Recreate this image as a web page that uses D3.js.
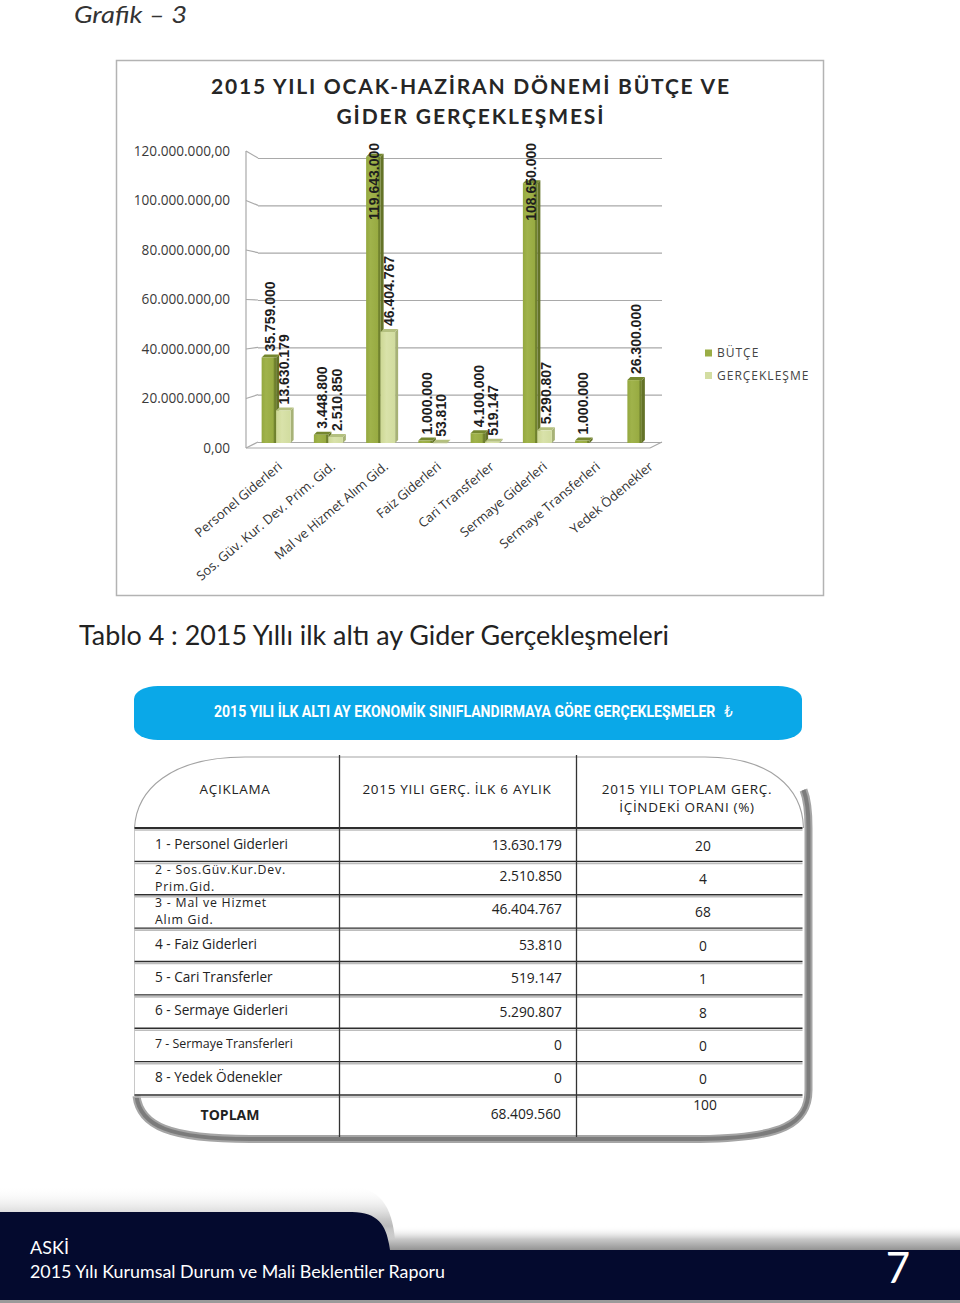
<!DOCTYPE html>
<html><head><meta charset="utf-8">
<script src="https://cdn.jsdelivr.net/npm/d3@7/dist/d3.min.js"></script>
<style>body{margin:0;background:#fff}svg{display:block}</style>
</head><body>
<svg id="c" width="960" height="1303"></svg>
<script>
// ---------------- DATA ----------------
const pageTitle = "Grafik – 3";
const chartTitle = ["2015 YILI OCAK-HAZİRAN DÖNEMİ BÜTÇE VE", "GİDER GERÇEKLEŞMESİ"];
const categories = ["Personel Giderleri","Sos. Güv. Kur. Dev. Prim. Gid.","Mal ve Hizmet Alım Gid.","Faiz Giderleri","Cari Transferler","Sermaye Giderleri","Sermaye Transferleri","Yedek Ödenekler"];
const butce = [35759000, 3448800, 119643000, 1000000, 4100000, 108650000, 1000000, 26300000];
const gerceklesme = [13630179, 2510850, 46404767, 53810, 519147, 5290807, 0, 0];
const seriesNames = ["BÜTÇE", "GERÇEKLEŞME"];
const yTicks = [0, 20000000, 40000000, 60000000, 80000000, 100000000, 120000000];

const tableCaption = "Tablo 4 : 2015 Yıllı ilk altı ay Gider Gerçekleşmeleri";
const bannerTitle = "2015 YILI İLK ALTI AY EKONOMİK SINIFLANDIRMAYA GÖRE GERÇEKLEŞMELER";
const bannerCurrency = "₺";
const tableHeaders = [["AÇIKLAMA"], ["2015 YILI GERÇ. İLK 6 AYLIK"], ["2015 YILI TOPLAM GERÇ.", "İÇİNDEKİ ORANI (%)"]];
const rowLabels = [["1 - Personel Giderleri"],["2 - Sos.Güv.Kur.Dev.","Prim.Gid."],["3 - Mal ve Hizmet","Alım Gid."],["4 - Faiz Giderleri"],["5 - Cari Transferler"],["6 - Sermaye Giderleri"],["7 - Sermaye Transferleri"],["8 - Yedek Ödenekler"]];
const rowValues = [13630179, 2510850, 46404767, 53810, 519147, 5290807, 0, 0];
const rowShares = [20, 4, 68, 0, 1, 8, 0, 0];
const totalLabel = "TOPLAM";
const totalValue = 68409560;
const totalShare = 100;

const footerLines = ["ASKİ", "2015 Yılı Kurumsal Durum ve Mali Beklentiler Raporu"];
const pageNumber = "7";

// ---------------- SETUP ----------------
const svg = d3.select("#c");
const loc = d3.formatLocale({decimal: ",", thousands: ".", grouping: [3], currency: ["", ""]});
const fmtTick = loc.format(",.2f");
const fmtInt = loc.format(",d");

const defs = svg.append("defs");
function lin(id, stops, vertical) {
  const g = defs.append("linearGradient").attr("id", id)
    .attr("x1", 0).attr("y1", 0).attr("x2", vertical ? 0 : 1).attr("y2", vertical ? 1 : 0);
  stops.forEach(s => g.append("stop").attr("offset", s[0]).attr("stop-color", s[1]).attr("stop-opacity", s[2] === undefined ? 1 : s[2]));
}
lin("gB", [[0, "#94a83f"], [0.3, "#a0b34b"], [0.8, "#98ab42"], [0.86, "#748630"], [1, "#6c7d2b"]]);
lin("gG", [[0, "#cdd894"], [0.4, "#d9e2aa"], [1, "#d1dc9f"]]);
lin("shTop", [[0, "#ffffff", 0], [0.5, "#c9c9c9", 1], [1, "#8a8a8a", 1]], true);

svg.append("rect").attr("width", 960).attr("height", 1303).attr("fill", "#fff");

// Page title
svg.append("text").attr("x", 74).attr("y", 23).text(pageTitle)
  .attr("font-family", "Lato, 'Open Sans', sans-serif").attr("font-style", "italic")
  .attr("font-size", 23).attr("fill", "#333").attr("textLength", 113).attr("lengthAdjust", "spacingAndGlyphs");

// Chart frame
svg.append("rect").attr("x", 116.5).attr("y", 60.5).attr("width", 707).attr("height", 535)
  .attr("fill", "#fff").attr("stroke", "#b3b3b3").attr("stroke-width", 1.5);

// Chart title
svg.selectAll("text.ct").data(chartTitle).join("text").attr("class", "ct")
  .attr("x", 470).attr("y", (d, i) => 93.5 + i * 30).attr("text-anchor", "middle")
  .attr("font-family", "Lato, 'Open Sans', sans-serif").attr("font-weight", 700)
  .attr("font-size", 21).attr("fill", "#262626")
  .attr("textLength", (d, i) => i === 0 ? 518 : 267).attr("lengthAdjust", "spacing")
  .text(d => d);

// Scales
const x = d3.scaleBand().domain(categories).range([250, 668]);
const xLab = d3.scalePoint().domain(categories).range([283, 654]);
const yBar = d3.scaleLinear().domain([0, 120000000]).range([443, 156]);
const yWall = d3.scaleLinear().domain([0, 120000000]).range([442, 158]);
const yFront = d3.scaleLinear().domain([0, 120000000]).range([448, 151]);
const wallL = 258, wallR = 662, frontL = 246, frontR = 650;

// Gridlines on back wall
svg.append("g").attr("transform", `translate(${wallL},0)`)
  .call(d3.axisRight(yWall).tickValues(yTicks).tickSize(wallR - wallL).tickFormat(""))
  .call(a => a.select(".domain").remove())
  .call(a => a.selectAll("line").attr("stroke", "#a9a9a9").attr("stroke-width", 1.2));

// Diagonal ticks front->back
svg.append("g").selectAll("line").data(yTicks).join("line")
  .attr("x1", frontL).attr("y1", d => yFront(d)).attr("x2", wallL).attr("y2", d => yWall(d))
  .attr("stroke", "#a9a9a9").attr("stroke-width", 1.2);
svg.append("line").attr("x1", frontL).attr("x2", frontL).attr("y1", yFront(0)).attr("y2", yFront(120000000))
  .attr("stroke", "#a9a9a9").attr("stroke-width", 1.2);
svg.append("line").attr("x1", frontL).attr("x2", frontR).attr("y1", yFront(0)).attr("y2", yFront(0))
  .attr("stroke", "#a9a9a9").attr("stroke-width", 1.2);
svg.append("line").attr("x1", frontR).attr("x2", wallR).attr("y1", yFront(0)).attr("y2", yWall(0))
  .attr("stroke", "#a9a9a9").attr("stroke-width", 1.2);

// Y labels
svg.append("g").attr("transform", `translate(${frontL},0)`)
  .call(d3.axisLeft(yFront).tickValues(yTicks).tickSize(0).tickPadding(16).tickFormat(fmtTick))
  .call(a => a.select(".domain").remove())
  .call(a => a.selectAll("text").attr("font-family", "'Open Sans', sans-serif").attr("font-size", 13.6).attr("fill", "#3a3a3a"));

// Bars
const barW = 14.5, dep = 3;
const series = [
  {name: seriesNames[0], values: butce, off: -barW, front: "url(#gB)", top: "#75872f", side: "#647328", legend: "#9aad45"},
  {name: seriesNames[1], values: gerceklesme, off: 0, front: "url(#gG)", top: "#b4c07f", side: "#a7b277", legend: "#d3dda2"}
];
const barsG = svg.append("g");
const barData = [];
categories.forEach((c, i) => {
  series.forEach(s => {
    const v = s.values[i];
    if (v > 0) barData.push({c, v, s, x0: x(c) + x.bandwidth() / 2 + s.off});
  });
});
barData.forEach(d => {
  const g = barsG.append("g");
  const x0 = d.x0, x1 = d.x0 + barW, yt = yBar(d.v), yb = yBar(0);
  g.append("polygon").attr("points", [[x1, yb], [x1 + dep, yb - dep], [x1 + dep, yt - dep], [x1, yt]].join(" ")).attr("fill", d.s.side);
  g.append("polygon").attr("points", [[x0, yt], [x0 + dep, yt - dep], [x1 + dep, yt - dep], [x1, yt]].join(" ")).attr("fill", d.s.top);
  g.append("rect").attr("x", x0).attr("y", yt).attr("width", barW).attr("height", Math.max(0.5, yb - yt)).attr("fill", d.s.front);
});

// Data labels
const topLimit = 143;
barData.forEach(d => {
  const cx = d.x0 + barW / 2 + 1;
  const t = svg.append("text").text(fmtInt(d.v))
    .attr("font-family", "'Liberation Sans', Arial, sans-serif").attr("font-weight", 700)
    .attr("font-size", 14).attr("fill", "#1e1e1e").attr("dy", "0.36em");
  const len = t.node().getComputedTextLength();
  let y0 = yBar(d.v) - 6;
  let anchor = "start";
  if (y0 - len < topLimit) { y0 = topLimit; anchor = "end"; }
  t.attr("x", cx).attr("y", y0).attr("text-anchor", anchor)
    .attr("transform", `rotate(-90,${cx},${y0})`);
});

// Category labels
svg.append("g").selectAll("text").data(categories).join("text")
  .attr("text-anchor", "end")
  .attr("transform", d => `translate(${xLab(d)},468) rotate(-40)`)
  .attr("font-family", "'Open Sans', sans-serif").attr("font-size", 13).attr("fill", "#333")
  .text(d => d);

// Legend
const lg = svg.append("g").selectAll("g").data(series).join("g")
  .attr("transform", (d, i) => `translate(705,${349.5 + i * 22.5})`);
lg.append("rect").attr("width", 7).attr("height", 7).attr("fill", d => d.legend);
lg.append("text").attr("x", 12).attr("y", 3.5).attr("dy", "0.36em")
  .attr("font-family", "'Open Sans', sans-serif").attr("font-size", 12).attr("letter-spacing", 1)
  .attr("fill", "#444").text(d => d.name);

// ---------------- TABLE ----------------
svg.append("text").attr("x", 79).attr("y", 645).text(tableCaption)
  .attr("font-family", "Lato, 'Open Sans', sans-serif").attr("font-size", 26).attr("fill", "#222")
  .attr("textLength", 590).attr("lengthAdjust", "spacingAndGlyphs");

// banner
svg.append("rect").attr("x", 134).attr("y", 686).attr("width", 668).attr("height", 54)
  .attr("rx", 24).attr("ry", 13).attr("fill", "#0aa8e8");
const bt = svg.append("text").attr("x", 0).attr("y", 0)
  .attr("font-family", "Roboto, 'Liberation Sans', sans-serif").attr("font-weight", 700)
  .attr("font-size", 17).attr("fill", "#fff");
const bt1 = bt.append("tspan").text(bannerTitle);
const mainW = bt1.node().getComputedTextLength();
const sc = 502 / mainW;
bt.append("tspan").attr("dx", 9 / sc).attr("font-family", "'DejaVu Sans', 'Noto Sans', sans-serif")
  .attr("font-weight", 400).attr("font-size", 16).text(bannerCurrency);
bt.attr("transform", `translate(214,717) scale(${sc},1)`);

const tL = 134.5, tR = 802.5, colX = [339.5, 576.5];
const headTop = 757, headBot = 828, rowsBot = 1095, tBot = 1137;
const rowY = d3.scaleBand().domain(d3.range(rowLabels.length)).range([headBot, rowsBot]);

// shadow (right + bottom)
const shadowD = `M${tR + 1},790 C${tR + 5},800 ${tR + 6},812 ${tR + 6},828 L${tR + 6},1090 C${tR + 6},1124 ${tR - 20},1138 700,1139 L250,1139 C170,1139 140,1126 ${tL + 2},1096`;
svg.append("path").attr("d", shadowD).attr("fill", "none").attr("stroke", "#a5a5a5").attr("stroke-width", 8);
svg.append("path").attr("d", shadowD).attr("fill", "none").attr("stroke", "#7c7c7c").attr("stroke-width", 4);
svg.append("path")
  .attr("d", `M${tL},${headBot} C${tL + 2},790 170,${headTop} 245,${headTop} L705,${headTop} C770,${headTop} ${tR},788 ${tR + 1},${headBot}`)
  .attr("fill", "none").attr("stroke", "#a3a3a3").attr("stroke-width", 1.1);
svg.append("line").attr("x1", tL).attr("x2", tL).attr("y1", headBot).attr("y2", 1097)
  .attr("stroke", "#c8c8c8").attr("stroke-width", 1);

const hLines = [headBot].concat(d3.range(1, rowLabels.length).map(i => rowY(i)), [rowsBot]);
hLines.forEach((yy, i) => {
  svg.append("line").attr("x1", tL).attr("x2", tR).attr("y1", yy + 2).attr("y2", yy + 2)
    .attr("stroke", "#bdbdbd").attr("stroke-width", 1.6);
  svg.append("line").attr("x1", tL).attr("x2", tR).attr("y1", yy).attr("y2", yy)
    .attr("stroke", "#2e2e2e").attr("stroke-width", i === 0 ? 1.8 : 1.3);
});
colX.forEach(cx => svg.append("line").attr("x1", cx).attr("x2", cx).attr("y1", 755).attr("y2", tBot)
  .attr("stroke", "#333").attr("stroke-width", 1.3));

const tf = "'Open Sans', sans-serif";
const headCx = [235, 457, 687];
tableHeaders.forEach((lines, i) => {
  const t = svg.append("text").attr("text-anchor", "middle").attr("font-family", tf).attr("font-size", 13.5)
    .attr("letter-spacing", 0.7).attr("fill", "#222");
  lines.forEach((s, j) => {
    t.append("tspan").attr("x", headCx[i]).attr("y", 789 + j * 18).attr("dy", "0.36em").text(s);
  });
});

rowLabels.forEach((lines, i) => {
  const cy = rowY(i) + rowY.bandwidth() / 2;
  const multi = lines.length > 1;
  const t = svg.append("text").attr("font-family", tf).attr("fill", "#222")
    .attr("font-size", lines[0].length > 22 ? 12.4 : (multi ? 12.3 : 13.6))
    .attr("letter-spacing", multi ? 0.8 : 0);
  lines.forEach((s, j) => {
    t.append("tspan").attr("x", 155).attr("y", multi ? cy - 8.5 + j * 17 : cy - 1).attr("dy", "0.36em").text(s);
  });
  svg.append("text").attr("x", 562).attr("y", cy - (multi ? 2 : 0)).attr("dy", "0.36em").attr("text-anchor", "end")
    .attr("font-family", tf).attr("font-size", 13.8).attr("fill", "#222").text(fmtInt(rowValues[i]));
  svg.append("text").attr("x", 703).attr("y", cy + 1).attr("dy", "0.36em").attr("text-anchor", "middle")
    .attr("font-family", tf).attr("font-size", 13.8).attr("fill", "#222").text(rowShares[i]);
});
svg.append("text").attr("x", 230).attr("y", 1115).attr("dy", "0.36em").attr("text-anchor", "middle")
  .attr("font-family", tf).attr("font-weight", 700).attr("font-size", 14).attr("fill", "#222").text(totalLabel);
svg.append("text").attr("x", 561).attr("y", 1114).attr("dy", "0.36em").attr("text-anchor", "end")
  .attr("font-family", tf).attr("font-size", 13.8).attr("fill", "#222").text(fmtInt(totalValue));
svg.append("text").attr("x", 705).attr("y", 1105).attr("dy", "0.36em").attr("text-anchor", "middle")
  .attr("font-family", tf).attr("font-size", 13.8).attr("fill", "#222").text(totalShare);

// ---------------- FOOTER ----------------
svg.append("path").attr("d", "M0,1186 L345,1186 C380,1186 392,1206 395,1240 L396,1252 L0,1252 Z")
  .attr("fill", "url(#shTop)");
svg.append("rect").attr("x", 380).attr("y", 1226).attr("width", 580).attr("height", 26).attr("fill", "url(#shTop)");
svg.append("path").attr("d", "M0,1212 L352,1212 C378,1212 386,1226 389,1244 L390,1250 L960,1250 L960,1300 L0,1300 Z")
  .attr("fill", "#040a2e");
svg.append("rect").attr("x", 0).attr("y", 1300).attr("width", 960).attr("height", 3).attr("fill", "#9a9a9a");
svg.append("text").attr("x", 30).attr("y", 1254).text(footerLines[0])
  .attr("font-family", "Lato, sans-serif").attr("font-size", 18).attr("fill", "#fff");
svg.append("text").attr("x", 30).attr("y", 1278).text(footerLines[1])
  .attr("font-family", "Lato, sans-serif").attr("font-size", 18).attr("fill", "#fff")
  .attr("textLength", 415).attr("lengthAdjust", "spacingAndGlyphs");
svg.append("text").attr("x", 898).attr("y", 1283).attr("text-anchor", "middle").text(pageNumber)
  .attr("font-family", "Lato, sans-serif").attr("font-size", 42).attr("fill", "#fff");
</script>
</body></html>
